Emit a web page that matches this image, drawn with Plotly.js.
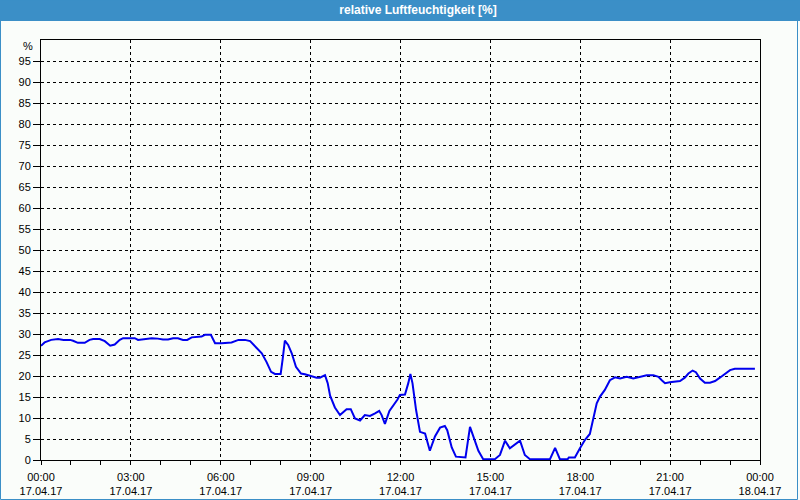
<!DOCTYPE html>
<html>
<head>
<meta charset="utf-8">
<script src="https://cdn.plot.ly/plotly-3.0.1.min.js"></script>
<style>
html,body{margin:0;padding:0;background:#FAFDFA;}
#chart{width:800px;height:500px;}
</style>
</head>
<body>
<div id="chart"></div>
<script>
// time of day in hours (17.04.17 00:00 = 0)
const hours = [0.00,0.12,0.34,0.57,0.75,0.97,1.07,1.23,1.46,1.62,1.74,1.96,2.13,2.31,2.46,2.63,2.74,2.90,3.13,3.24,3.57,3.70,3.90,4.07,4.24,4.41,4.57,4.74,4.88,5.03,5.36,5.47,5.67,5.81,6.03,6.36,6.59,6.81,6.98,7.14,7.37,7.53,7.68,7.81,8.00,8.07,8.14,8.25,8.37,8.51,8.68,8.81,8.98,9.20,9.31,9.48,9.57,9.65,9.81,9.98,10.20,10.34,10.48,10.65,10.81,10.98,11.15,11.29,11.37,11.48,11.63,11.82,11.90,11.98,12.15,12.26,12.33,12.40,12.52,12.65,12.82,12.98,13.15,13.32,13.48,13.56,13.71,13.85,14.04,14.17,14.32,14.45,14.60,14.76,15.15,15.32,15.49,15.65,15.82,15.99,16.15,16.32,16.99,17.16,17.32,17.58,17.62,17.82,17.99,18.16,18.32,18.44,18.55,18.66,18.82,18.99,19.16,19.33,19.55,19.77,19.99,20.22,20.44,20.61,20.72,20.83,20.99,21.16,21.33,21.49,21.61,21.75,21.86,22.00,22.16,22.33,22.50,22.66,22.83,23.00,23.16,23.83];
// relative humidity in %
const humidity = [27.2,28.0,28.6,28.8,28.6,28.6,28.4,27.9,27.9,28.6,28.8,28.8,28.3,27.2,27.5,28.6,29.0,29.0,29.0,28.6,29.0,29.0,28.9,28.7,28.7,29.0,29.0,28.6,28.6,29.2,29.4,29.8,29.8,27.8,27.8,28.0,28.6,28.6,28.3,27.0,25.4,23.3,21.0,20.5,20.5,24.2,28.4,27.4,25.4,22.2,20.6,20.4,20.0,19.6,19.6,20.2,18.3,15.3,12.5,10.7,12.1,12.1,9.9,9.4,10.7,10.5,11.1,11.7,10.7,8.6,11.7,13.5,14.4,15.5,15.6,18.3,20.5,18.3,11.9,6.7,6.3,2.2,5.6,7.7,8.1,7.1,3.0,0.8,0.6,0.6,7.9,5.3,2.2,0.2,0.2,1.2,4.6,2.8,3.8,4.6,1.2,0.2,0.2,2.9,0.2,0.2,0.6,0.6,2.8,4.8,6.2,9.9,13.5,15.1,16.7,19.0,19.7,19.4,19.8,19.4,19.8,20.2,20.2,19.8,19.0,18.3,18.5,18.7,18.8,19.6,20.6,21.3,20.9,19.4,18.4,18.4,18.8,19.6,20.6,21.4,21.7,21.7];

const xTickVals = [0,3,6,9,12,15,18,21,24];
const xTimeLabels = ["00:00","03:00","06:00","09:00","12:00","15:00","18:00","21:00","00:00"];
const xDateLabels = ["17.04.17","17.04.17","17.04.17","17.04.17","17.04.17","17.04.17","17.04.17","17.04.17","18.04.17"];
const yTickVals = [0,5,10,15,20,25,30,35,40,45,50,55,60,65,70,75,80,85,90,95];
const yTickText = ["0","5","10","15","20","25","30","35","40","45","50","55","60","65","70","75","80","85","90","95"];
const chartTitle = "relative Luftfeuchtigkeit [%]";
const unitLabel = "%";

const tickFont = {family:"Liberation Sans, Arial, sans-serif", size:11, color:"#000000"};
const bg = "#FAFDFA";
const frameBlue = "#3B8FC7";

const trace = {
  x: hours, y: humidity, type:"scatter", mode:"lines",
  line:{color:"#0000EE", width:2}, hoverinfo:"skip", showlegend:false
};

const layout = {
  width:800, height:500,
  margin:{l:41, r:40, t:40, b:40, pad:0},
  paper_bgcolor:bg, plot_bgcolor:bg,
  showlegend:false,
  title:{text:chartTitle, x:418/800, xref:"container", xanchor:"center",
         y:1-10/500, yref:"container", yanchor:"middle",
         font:{family:"Liberation Sans, Arial, sans-serif", size:12, color:"#FFFFFF", weight:"bold"}},
  xaxis:{
    range:[0,24], tickmode:"array", tickvals:xTickVals, ticktext:xTimeLabels,
    showgrid:true, gridcolor:"#000000", gridwidth:1, griddash:"3px,3px",
    showline:true, linecolor:"#000000", linewidth:1, mirror:true,
    ticks:"outside", ticklen:4, tickcolor:"#000000", tickwidth:1,
    minor:{tickmode:"linear", tick0:0, dtick:1, ticks:"outside", ticklen:4, tickcolor:"#000000", showgrid:false},
    tickfont:tickFont, zeroline:false, fixedrange:true, ticklabelstandoff:3
  },
  xaxis2:{
    range:[0,24], overlaying:"x", anchor:"y", side:"bottom",
    tickmode:"array", tickvals:xTickVals, ticktext:xDateLabels,
    showgrid:false, showline:false, ticks:"", zeroline:false,
    tickfont:tickFont, ticklabelstandoff:23, fixedrange:true
  },
  yaxis:{
    range:[0,100], tickmode:"array", tickvals:yTickVals, ticktext:yTickText,
    showgrid:true, gridcolor:"#000000", gridwidth:1, griddash:"3px,3px",
    showline:true, linecolor:"#000000", linewidth:1, mirror:true,
    ticks:"outside", ticklen:7, tickcolor:"#000000", tickwidth:1,
    tickfont:tickFont, zeroline:false, fixedrange:true
  },
  shapes:[
    {type:"rect", xref:"paper", yref:"paper", layer:"below",
     x0:-41/719, x1:759/719, y0:(460-21)/420, y1:460/420,
     fillcolor:frameBlue, line:{width:0}},
    {type:"rect", xref:"paper", yref:"paper", layer:"above",
     x0:-40.5/719, x1:756.5/719, y0:(460-499.5)/420, y1:460/420,
     fillcolor:"rgba(0,0,0,0)", line:{color:frameBlue, width:1}}
  ],
  annotations:[
    {text:unitLabel, xref:"paper", yref:"y", x:0, y:100, xanchor:"right", yanchor:"middle",
     xshift:-6, yshift:-6, showarrow:false, font:tickFont}
  ]
};

const trace2 = {x:[0,24], y:[null,null], xaxis:"x2", yaxis:"y", type:"scatter", mode:"lines", showlegend:false, hoverinfo:"skip"};

Plotly.newPlot("chart", [trace, trace2], layout, {staticPlot:true, displayModeBar:false});
</script>
</body>
</html>
